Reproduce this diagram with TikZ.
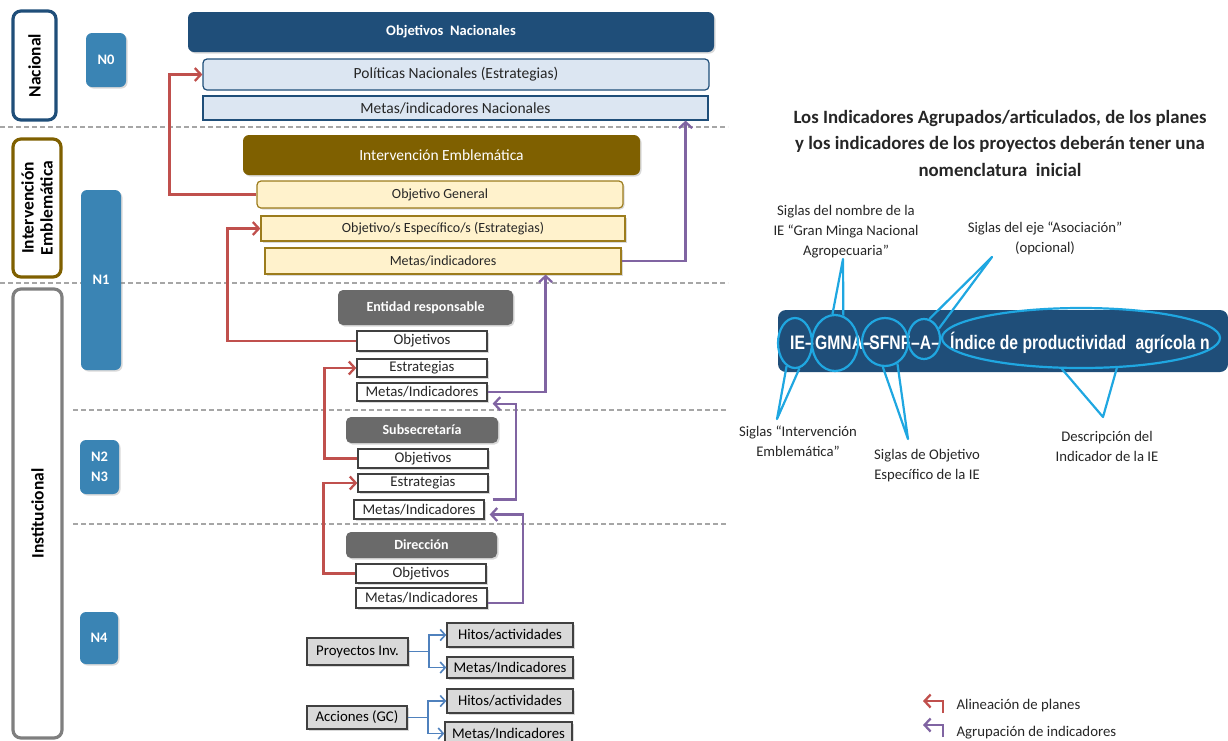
\documentclass[tikz,border=0pt]{standalone}
\usepackage{fontspec}
\setmainfont{Carlito}
\newfontfamily\barfont[FakeStretch=0.8]{Liberation Sans}
\usetikzlibrary{arrows.meta,shapes.geometric,shadows}
\definecolor{navy}{HTML}{1F4E79}
\definecolor{steel}{HTML}{3A84B4}
\definecolor{lightblue}{HTML}{DCE6F2}
\definecolor{olive}{HTML}{7F6000}
\definecolor{cream}{HTML}{FFF2CC}
\definecolor{creamborder}{HTML}{9C7C1C}
\definecolor{headgray}{HTML}{6A6A6A}
\definecolor{boxline}{HTML}{404040}
\definecolor{lightgray}{HTML}{D9D9D9}
\definecolor{redline}{HTML}{C0504D}
\definecolor{purpleline}{HTML}{8064A2}
\definecolor{blueline}{HTML}{4F81BD}
\definecolor{cyanline}{HTML}{1FA7E1}
\definecolor{dashgray}{HTML}{A6A6A6}
\definecolor{textdark}{HTML}{262626}
\definecolor{instgray}{HTML}{7F7F7F}
\begin{document}
\begin{tikzpicture}[x=1pt,y=-1pt,
  basebox/.style={inner sep=0pt, align=center},
  softshadow/.style={drop shadow={shadow xshift=1.5pt,shadow yshift=-1.5pt,opacity=0.3}},
  sidebox/.style={basebox, draw, line width=3.2pt, rounded corners=8pt, fill=white, text=black, font=\fontsize{17.5}{19}\selectfont\bfseries},
  levelbox/.style={basebox, fill=steel, rounded corners=6pt, text=white, font=\fontsize{14.5}{20}\selectfont\bfseries, softshadow},
  navyhead/.style={basebox, fill=navy, rounded corners=6pt, text=white, font=\fontsize{14.5}{16}\selectfont\bfseries, softshadow},
  olivehead/.style={basebox, fill=olive, rounded corners=6pt, text=white, font=\fontsize{15.5}{17}\selectfont, softshadow},
  grayhead/.style={basebox, fill=headgray, rounded corners=5pt, text=white, font=\fontsize{14}{16}\selectfont\bfseries, softshadow},
  bluebox/.style={basebox, fill=lightblue, draw=navy, line width=1.2pt, text=textdark, font=\fontsize{15.5}{17}\selectfont},
  creambox/.style={basebox, fill=cream, draw=creamborder, line width=1.2pt, text=textdark, font=\fontsize{14}{16}\selectfont, softshadow},
  whitebox/.style={basebox, fill=white, draw=boxline, line width=1.3pt, text=textdark, font=\fontsize{14.8}{16}\selectfont, softshadow},
  graybox/.style={basebox, fill=lightgray, draw=boxline, line width=1.4pt, text=black, font=\fontsize{14.8}{16}\selectfont, softshadow},
  redarr/.style={draw=redline, line width=2.3pt, -{Straight Barb[length=6pt,width=13pt]}},
  purarr/.style={draw=purpleline, line width=2.3pt, -{Straight Barb[length=6pt,width=13pt]}},
  bluearr/.style={draw=blueline, line width=1.6pt, -{Straight Barb[length=5pt,width=11pt]}},
  divider/.style={draw=dashgray, line width=1.5pt, dash pattern=on 5pt off 3pt},
  callout/.style={draw=cyanline, line width=2.2pt, line join=round},
  oval/.style={draw=cyanline, line width=2.2pt, ellipse, inner sep=0pt},
  lbl/.style={align=center, text=textdark, font=\fontsize{14.7}{20}\selectfont},
  bartext/.style={anchor=base west, inner sep=0pt, text=white, font=\barfont\bfseries\fontsize{19.6}{20}\selectfont}
]
\useasboundingbox (0,0) rectangle (1228,740);
\clip (0,0) rectangle (1228,740);

% dividers
\draw[divider] (0,127) -- (728,127);
\draw[divider] (0,283) -- (728,283);
\draw[divider] (73,410) -- (728,410);
\draw[divider] (73,524) -- (728,524);

% left column
\node[sidebox, draw=navy, rotate=90, minimum width=109, minimum height=43] (nacbox) at (34.5,65.5) {Nacional};
\node[sidebox, draw=olive, rotate=90, minimum width=138, minimum height=48] (iebox) at (37,208) {Intervención\\Emblemática};
\node[sidebox, draw=instgray, rotate=90, minimum width=449, minimum height=49] (instbox) at (37.5,513.5) {Institucional};

\node[levelbox, minimum width=40, minimum height=54] (n0) at (106,60) {N0};
\node[levelbox, minimum width=40, minimum height=180] (n1) at (101,280) {N1};
\node[levelbox, minimum width=39, minimum height=54] (n23) at (99.5,467) {N2\\N3};
\node[levelbox, minimum width=38, minimum height=52] (n4) at (99,638) {N4};

% national level
\node[navyhead, minimum width=526, minimum height=40] (objnac) at (451,32) {Objetivos\ \ Nacionales};
\node[bluebox, rounded corners=4pt, minimum width=506, minimum height=31] (polnac) at (456,74.5) {Políticas Nacionales (Estrategias)};
\node[bluebox, minimum width=505, minimum height=24] (metasnac) at (455.5,108) {Metas/indicadores Nacionales};

% emblematic intervention
\node[olivehead, minimum width=397, minimum height=40] (iehead) at (441.5,155) {Intervención Emblemática};
\node[creambox, rounded corners=4pt, minimum width=366, minimum height=27] (objgen) at (440,194.5) {Objetivo General};
\node[creambox, minimum width=364, minimum height=25] (objesp) at (443,228.5) {Objetivo/s Específico/s (Estrategias)};
\node[creambox, minimum width=356, minimum height=26] (metasie) at (443,261) {Metas/indicadores};

% institutional
\node[grayhead, minimum width=175, minimum height=35] (enthead) at (425.5,307.5) {Entidad responsable};
\node[whitebox, minimum width=130, minimum height=20] (entobj) at (422,341) {Objetivos};
\node[whitebox, minimum width=130, minimum height=18] (entest) at (422,368) {Estrategias};
\node[whitebox, minimum width=130, minimum height=18] (entmet) at (422,392) {Metas/Indicadores};

\node[grayhead, minimum width=152, minimum height=26] (subhead) at (422,430) {Subsecretaría};
\node[whitebox, minimum width=130, minimum height=19] (subobj) at (423,458.5) {Objetivos};
\node[whitebox, minimum width=130, minimum height=18] (subest) at (423,483) {Estrategias};
\node[whitebox, minimum width=130, minimum height=19] (submet) at (419,509.5) {Metas/Indicadores};

\node[grayhead, minimum width=151, minimum height=26] (dirhead) at (421.5,545) {Dirección};
\node[whitebox, minimum width=130, minimum height=19] (dirobj) at (421,573.5) {Objetivos};
\node[whitebox, minimum width=131, minimum height=20] (dirmet) at (421.5,598) {Metas/Indicadores};

% N4
\node[graybox, minimum width=101, minimum height=27] (proy) at (357.5,651.5) {Proyectos Inv.};
\node[graybox, minimum width=126, minimum height=24] (hit1) at (510,635) {Hitos/actividades};
\node[graybox, minimum width=126, minimum height=21] (met1) at (510,667.5) {Metas/Indicadores};
\node[graybox, minimum width=100, minimum height=23] (acc) at (357,717.5) {Acciones (GC)};
\node[graybox, minimum width=126, minimum height=24] (hit2) at (510,701) {Hitos/actividades};
\node[graybox, minimum width=127, minimum height=23] (met2) at (508.5,733.5) {Metas/Indicadores};

% red alignment connectors
\draw[redarr] (objgen.west) -- ++(-87,0) |- (polnac.west);
\draw[redarr] (entobj.west) -- ++(-129,0) |- (objesp.west);
\draw[redarr] (subobj.west) -- ++(-33,0) |- (entest.west);
\draw[redarr] (dirobj.west) -- ++(-32,0) |- (subest.west);

% purple grouping connectors
\draw[purarr] (metasie.east) -| ([xshift=-23pt]metasnac.south east);
\draw[purarr] (entmet.east) -| ([xshift=-76pt]metasie.south east);
\draw[purarr] ([xshift=8pt]submet.north east) -- ++(23,0) |- ([shift={(5,2)}]entmet.south east);
\draw[purarr] ([yshift=-5pt]dirmet.east) -- ++(35,0) |- ([shift={(5,5)}]submet.east);

% blue connectors
\draw[bluearr] (proy.east) -- ++(20,0) |- (hit1.west);
\draw[bluearr] (proy.east) -- ++(20,0) |- (met1.west);
\draw[bluearr] (acc.east) -- ++(20,0) |- (hit2.west);
\draw[bluearr] (acc.east) -- ++(20,0) |- (met2.west);

% right side
\node[align=center, text=textdark, font=\bfseries\fontsize{18.8}{26.5}\selectfont] (title) at (1000,143)
  {Los Indicadores Agrupados/articulados, de los planes\\y los indicadores de los proyectos deberán tener una\\nomenclatura\ \ inicial};

\node[basebox, fill=navy, rounded corners=8pt, minimum width=450, minimum height=62] (bar) at (1003,341) {};
\node[bartext] (t1) at (790,349) {IE–};
\node[bartext] (t2) at (815,349) {GMNA–};
\node[bartext] (t3) at (864,349) {-SFNF};
\node[bartext] (t4) at (911,349) {–A–};
\node[bartext] (t5) at (950,349) {Índice de productividad\hspace{5pt} agrícola n};

\node[oval, minimum width=34, minimum height=50] (eie) at (795,343) {};
\node[oval, minimum width=46, minimum height=56] (eg) at (835,343) {};
\node[oval, minimum width=46, minimum height=48] (es) at (885,342) {};
\node[oval, minimum width=32, minimum height=40] (ea) at (924,339) {};
\node[oval, minimum width=278, minimum height=60] (ed) at (1081,338) {};

\node[lbl] (lab1) at (846,232) {Siglas del nombre de la\\IE “Gran Minga Nacional\\Agropecuaria”};
\node[lbl] (lab2) at (1045,238) {Siglas del eje “Asociación”\\(opcional)};
\node[lbl] (lab3) at (798,441) {Siglas “Intervención\\Emblemática”};
\node[lbl] (lab4) at (927,466) {Siglas de Objetivo\\Específico de la IE};
\node[lbl] (lab5) at (1107,446) {Descripción del\\Indicador de la IE};

\coordinate (a1) at (843,259);
\coordinate (a2) at (992,257);
\coordinate (a3) at (777,419);
\coordinate (a4) at (908,439);
\coordinate (a5) at (1103,417);
\draw[callout] (eg.95) -- (a1) -- (eg.73);
\draw[callout] (ea.75) -- (a2) -- (ea.35);
\draw[callout] (eie.250) -- (a3) -- (eie.280);
\draw[callout] (es.265) -- (a4) -- (es.300);
\draw[callout] (ed.238) -- (a5) -- (ed.320);

% legend
\draw[redarr] (943,713) -- (943,701) -- (923,701);
\node[anchor=west, text=textdark, font=\fontsize{14.8}{16}\selectfont] (leg1) at (953,706) {Alineación de planes};
\draw[purarr] (943,737) -- (943,725) -- (923,725);
\node[anchor=west, text=textdark, font=\fontsize{14.8}{16}\selectfont] (leg2) at (953,733) {Agrupación de indicadores};
\end{tikzpicture}
\end{document}
